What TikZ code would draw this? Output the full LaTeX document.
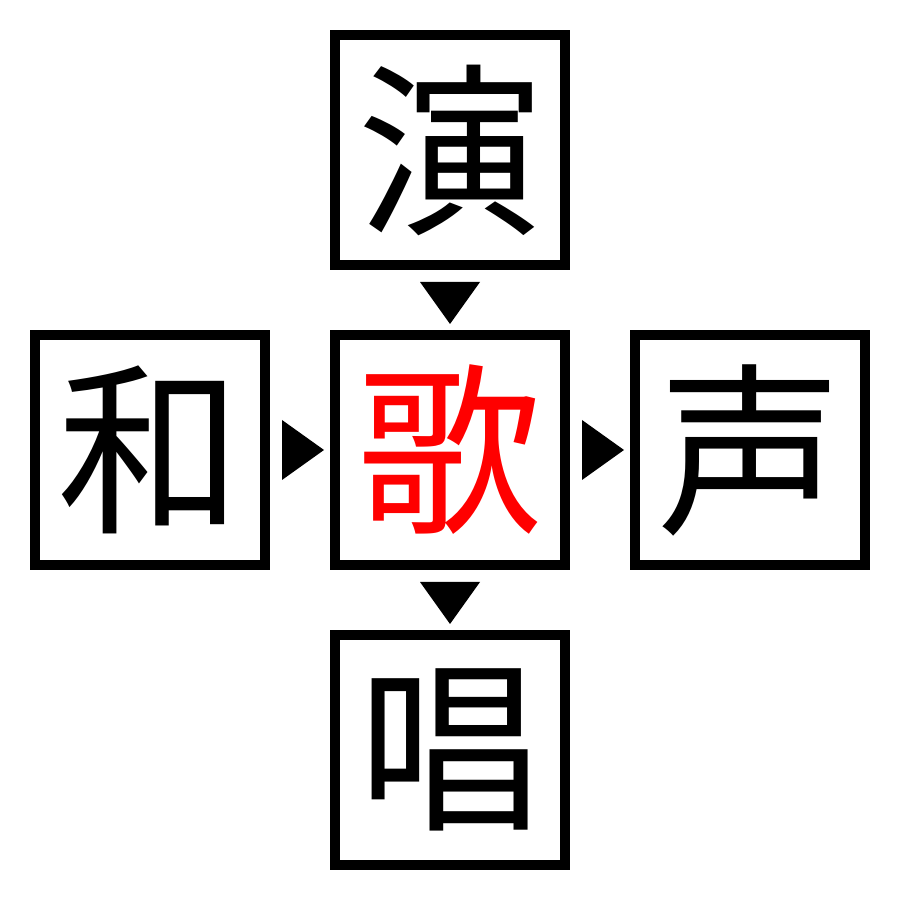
\documentclass[tikz,border=0pt]{standalone}
\usepackage{fontspec}
\newfontfamily\cjk{Noto Sans CJK JP}
\usetikzlibrary{calc}
\tikzset{
  charbox/.style={draw=black, line width=10pt, minimum size=230pt, inner sep=0pt,
    font=\cjk\fontsize{185}{185}\selectfont},
  tri/.style={fill=black}
}
\begin{document}
\begin{tikzpicture}[x=1pt,y=1pt]
\useasboundingbox (0,0) rectangle (900,900);
\node[charbox] (t) at (450,750) {演};
\node[charbox] (l) at (150,450) {和};
\node[charbox, text=red] (c) at (450,450) {歌};
\node[charbox] (r) at (750,450) {声};
\node[charbox] (b) at (450,150) {唱};
% arrows
\fill[tri] ($(t.south)+(-30,-12)$) -- ($(t.south)+(30,-12)$) -- ($(t.south)+(0,-54)$) -- cycle;
\fill[tri] ($(l.east)+(12,30)$) -- ($(l.east)+(12,-30)$) -- ($(l.east)+(54,0)$) -- cycle;
\fill[tri] ($(c.east)+(12,30)$) -- ($(c.east)+(12,-30)$) -- ($(c.east)+(54,0)$) -- cycle;
\fill[tri] ($(c.south)+(-30,-12)$) -- ($(c.south)+(30,-12)$) -- ($(c.south)+(0,-54)$) -- cycle;
\end{tikzpicture}
\end{document}
